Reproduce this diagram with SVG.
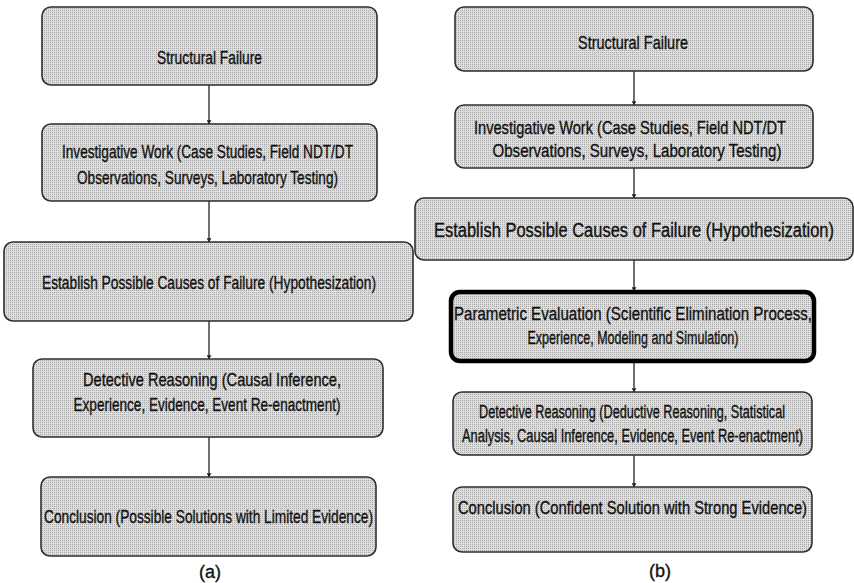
<svg xmlns="http://www.w3.org/2000/svg" width="854" height="583" viewBox="0 0 854 583">
<style>
.box{fill:url(#ht);stroke:#2e2e2e;stroke-width:1.6}
.bold{fill:url(#ht);stroke:#000;stroke-width:4.5}
text{font-family:"Liberation Sans Narrow","Liberation Sans",Arial,sans-serif;fill:#111;stroke:#111;stroke-width:0.35;text-anchor:middle}
.t{font-size:19px}
.s{font-size:18px}
.l{font-size:20px}
.cap{font-size:18px;font-family:"Liberation Sans",Arial,sans-serif}
.c{stroke:#222;stroke-width:1.3;fill:none;marker-end:url(#ah)}
</style>
<defs>
<pattern id="ht" width="2" height="2" patternUnits="userSpaceOnUse">
<rect width="2" height="2" fill="#dedede"/>
<rect width="1" height="1" fill="#a8a8a8"/>
</pattern>
<marker id="ah" viewBox="0 0 6 8" refX="6" refY="4" markerWidth="4" markerHeight="5" orient="auto" markerUnits="userSpaceOnUse">
<path d="M0,0 L6,4 L0,8 Z" fill="#222"/>
</marker>
</defs>
<rect width="854" height="583" fill="#ffffff"/>
<g id="connectors">
<line class="c" x1="209" y1="85" x2="209" y2="124"/>
<line class="c" x1="209" y1="201" x2="209" y2="242"/>
<line class="c" x1="209" y1="321" x2="209" y2="359"/>
<line class="c" x1="209" y1="437" x2="209" y2="477"/>
<line class="c" x1="634" y1="71" x2="634" y2="105"/>
<line class="c" x1="634" y1="168" x2="634" y2="198"/>
<line class="c" x1="634" y1="260" x2="634" y2="291"/>
<line class="c" x1="634" y1="362" x2="634" y2="392"/>
<line class="c" x1="634" y1="455" x2="634" y2="487"/>
</g>
<g id="a1">
<rect class="box" x="42" y="7" width="335" height="78" rx="9"/>
<text class="t" x="209.5" y="64" textLength="105" lengthAdjust="spacingAndGlyphs">Structural Failure</text>
</g>
<g id="a2">
<rect class="box" x="42" y="124" width="335" height="77" rx="9"/>
<text class="t" x="207.5" y="158" textLength="291" lengthAdjust="spacingAndGlyphs">Investigative Work (Case Studies, Field NDT/DT</text>
<text class="t" x="207.5" y="184" textLength="261" lengthAdjust="spacingAndGlyphs">Observations, Surveys, Laboratory Testing)</text>
</g>
<g id="a3">
<rect class="box" x="4" y="242" width="409" height="79" rx="9"/>
<text class="t" x="209" y="289" textLength="334" lengthAdjust="spacingAndGlyphs">Establish Possible Causes of Failure (Hypothesization)</text>
</g>
<g id="a4">
<rect class="box" x="33" y="359" width="350" height="78" rx="9"/>
<text class="t" x="212" y="386" textLength="258" lengthAdjust="spacingAndGlyphs">Detective Reasoning (Causal Inference,</text>
<text class="t" x="207" y="411" textLength="267" lengthAdjust="spacingAndGlyphs">Experience, Evidence, Event Re-enactment)</text>
</g>
<g id="a5">
<rect class="box" x="41" y="477" width="335" height="79" rx="9"/>
<text class="t" x="208.5" y="523" textLength="329" lengthAdjust="spacingAndGlyphs">Conclusion (Possible Solutions with Limited Evidence)</text>
</g>
<text class="cap" x="210" y="578">(a)</text>
<g id="b1">
<rect class="box" x="455" y="7" width="358" height="64" rx="9"/>
<text class="t" x="633" y="49" textLength="110" lengthAdjust="spacingAndGlyphs">Structural Failure</text>
</g>
<g id="b2">
<rect class="box" x="455" y="105" width="358" height="63" rx="9"/>
<text class="t" x="630" y="134" textLength="312" lengthAdjust="spacingAndGlyphs">Investigative Work (Case Studies, Field NDT/DT</text>
<text class="t" x="637" y="157" textLength="289" lengthAdjust="spacingAndGlyphs">Observations, Surveys, Laboratory Testing)</text>
</g>
<g id="b3">
<rect class="box" x="415" y="198" width="438" height="62" rx="9"/>
<text class="l" x="634" y="237" textLength="400" lengthAdjust="spacingAndGlyphs">Establish Possible Causes of Failure (Hypothesization)</text>
</g>
<g id="b4">
<rect class="bold" x="451" y="292" width="363" height="69" rx="9"/>
<text class="t" x="633" y="320" textLength="358" lengthAdjust="spacingAndGlyphs">Parametric Evaluation (Scientific Elimination Process,</text>
<text class="t" x="633" y="344" textLength="211" lengthAdjust="spacingAndGlyphs">Experience, Modeling and Simulation)</text>
</g>
<g id="b5">
<rect class="box" x="453" y="392" width="359" height="63" rx="9"/>
<text class="s" x="632" y="418" textLength="306" lengthAdjust="spacingAndGlyphs">Detective Reasoning (Deductive Reasoning, Statistical</text>
<text class="s" x="632.5" y="442" textLength="341" lengthAdjust="spacingAndGlyphs">Analysis, Causal Inference, Evidence, Event Re-enactment)</text>
</g>
<g id="b6">
<rect class="box" x="453" y="487" width="359" height="65" rx="9"/>
<text class="t" x="632.5" y="514" textLength="349" lengthAdjust="spacingAndGlyphs">Conclusion (Confident Solution with Strong Evidence)</text>
</g>
<text class="cap" x="660" y="577">(b)</text>
</svg>
